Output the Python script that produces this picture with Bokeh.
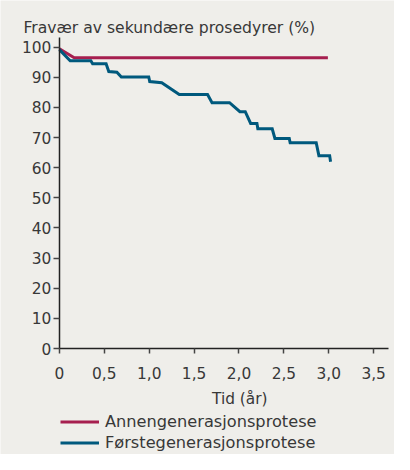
from bokeh.plotting import figure
from bokeh.models import Label, Legend, LegendItem, FixedTicker, Range1d
from bokeh.embed import file_html
from bokeh.resources import INLINE

# Data
red_t = [0.0, 0.165, 2.99]
red_s = [99.5, 96.5, 96.5]

blue_t = [0.0, 0.12, 0.35, 0.37, 0.52, 0.55, 0.64, 0.69, 0.995, 1.006, 1.14, 1.335,
          1.65, 1.70, 1.895, 2.01, 2.07, 2.13, 2.20, 2.21, 2.37, 2.40, 2.56, 2.57,
          2.86, 2.89, 3.01, 3.02]
blue_s = [99.2, 95.5, 95.5, 94.5, 94.5, 91.9, 91.7, 90.1, 90.1, 88.6, 88.2, 84.3,
          84.3, 81.6, 81.6, 78.6, 78.6, 74.7, 74.7, 72.9, 72.9, 69.7, 69.7, 68.3,
          68.3, 64.0, 64.0, 62.0]

x_ticks = [0, 0.5, 1.0, 1.5, 2.0, 2.5, 3.0, 3.5]
x_tick_labels = ["0", "0,5", "1,0", "1,5", "2,0", "2,5", "3,0", "3,5"]
y_ticks = [0, 10, 20, 30, 40, 50, 60, 70, 80, 90, 100]

series_names = ["Annengenerasjonsprotese", "Førstegenerasjonsprotese"]
title_text = "Fravær av sekundære prosedyrer (%)"
x_label_text = "Tid (år)"

RED = "#a61f4f"
BLUE = "#00597d"
BG = "#efeeea"
TXT = "#383838"
FONT = "DejaVu Sans"

# The frame covers the whole canvas; axes are pinned at x=0 / y=0.
p = figure(width=394, height=454, output_backend="svg", toolbar_location=None,
           x_range=Range1d(-0.656, 3.732), y_range=Range1d(-35.18, 115.5),
           min_border=0)
p.title.visible = False

p.background_fill_color = BG
p.border_fill_color = BG
p.outline_line_color = None
p.grid.visible = False

for ax in (p.xaxis, p.yaxis):
    ax.axis_line_color = "#222222"
    ax.axis_line_width = 1.5
    ax.major_tick_line_color = "#444444"
    ax.major_tick_line_width = 1.5
    ax.major_tick_in = 0
    ax.major_tick_out = 6
    ax.minor_tick_line_color = None
    ax.major_label_text_font = FONT
    ax.major_label_text_font_size = "15.4px"
    ax.major_label_text_color = TXT

p.xaxis.fixed_location = 0
p.xaxis.bounds = (0, 3.665)
p.xaxis.ticker = FixedTicker(ticks=x_ticks)
p.xaxis.major_label_overrides = {t: l for t, l in zip(x_ticks, x_tick_labels)}
p.xaxis.major_label_standoff = 13
p.xaxis.major_tick_out = 5

p.yaxis.fixed_location = 0
p.yaxis.bounds = (0, 103.3)
p.yaxis.ticker = FixedTicker(ticks=y_ticks)
p.yaxis.major_label_standoff = 2

r_red = p.line(red_t, red_s, line_color=RED, line_width=3, line_join="miter")
r_blue = p.line(blue_t, blue_s, line_color=BLUE, line_width=3, line_join="miter")

p.add_layout(Label(x=-0.400, y=106.4, text=title_text, text_font=FONT,
                   text_font_size="15.6px", text_color=TXT,
                   text_baseline="alphabetic", text_align="left"))
p.add_layout(Label(x=2.009, y=-16.83, text=x_label_text, text_font=FONT,
                   text_font_size="15.4px", text_color=TXT,
                   text_baseline="alphabetic", text_align="center"))

legend = Legend(items=[LegendItem(label=series_names[0], renderers=[r_red]),
                       LegendItem(label=series_names[1], renderers=[r_blue])],
                location=(60, 2.5), orientation="vertical")
legend.glyph_width = 39
legend.glyph_height = 19
legend.label_height = 19
legend.label_standoff = 6
legend.spacing = 2
legend.padding = 0
legend.margin = 0
legend.background_fill_alpha = 0
legend.border_line_color = None
legend.label_text_font = FONT
legend.label_text_font_size = "16.2px"
legend.label_text_color = TXT
p.add_layout(legend)

open("out.html", "w").write(file_html(p, INLINE))
